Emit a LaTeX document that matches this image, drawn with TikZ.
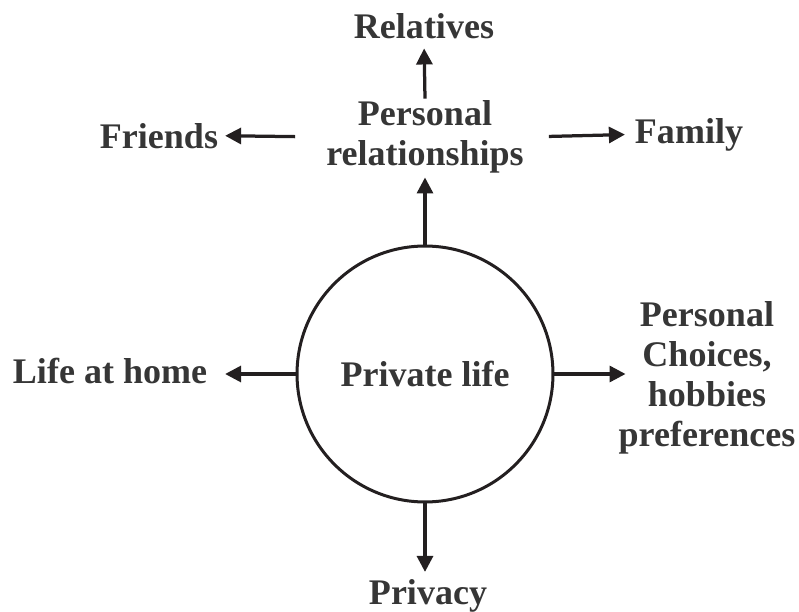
\documentclass[tikz,border=0pt]{standalone}
\usepackage{fontspec}
\setmainfont{Liberation Serif}
\usetikzlibrary{arrows.meta}
\definecolor{txtgray}{HTML}{363636}
\definecolor{linegray}{HTML}{231F20}
\begin{document}
\begin{tikzpicture}[x=0.02cm, y=-0.02cm,
        lbl/.style={text=txtgray, font=\fontsize{20.5}{22.8}\selectfont\bfseries, inner sep=1pt, align=center},
        arr/.style={draw=linegray, line width=0.065cm, -{Triangle[length=0.32cm, width=0.32cm]}}]
                \useasboundingbox (0,0) rectangle (799,612);
                
                \node[lbl, circle, draw=linegray, line width=0.06cm, minimum size=5.12cm] (pl) at (425,374) {Private life};
                
                \node[lbl] (rel) at (425,137) {Personal\\relationships};
                \node[lbl, anchor=base] (relatives) at (424,38) {Relatives};
                \node[lbl, anchor=base] (friends) at (159,148) {Friends};
                \node[lbl, anchor=base] (family) at (689,143) {Family};
                \node[lbl, anchor=base] (home) at (110,383) {Life at home};
                \node[lbl] (choices) at (707,378) {Personal\\Choices,\\hobbies\\preferences};
                \node[lbl, anchor=base] (privacy) at (428,604) {Privacy};
                
                \draw[arr, shorten >=0.04cm] (pl.north) -- (rel.south);
                \draw[arr, shorten >=0.16cm] (rel.north) -- (relatives.south);
                \draw[arr, shorten <=0.58cm, shorten >=0.1cm] (rel.west) -- (friends.east);
                \draw[arr, shorten <=0.46cm, shorten >=0.16cm] (rel.east) -- (family.west);
                \draw[arr, shorten >=0.32cm] (pl.west) -- (pl.west -| home.east);
                \draw[arr, shorten >=-0.18cm] (pl.east) -- (pl.east -| choices.west);
                \draw[arr, shorten >=0.1cm] (pl.south) -- (pl.south |- privacy.north);
            \end{tikzpicture}
\end{document}
